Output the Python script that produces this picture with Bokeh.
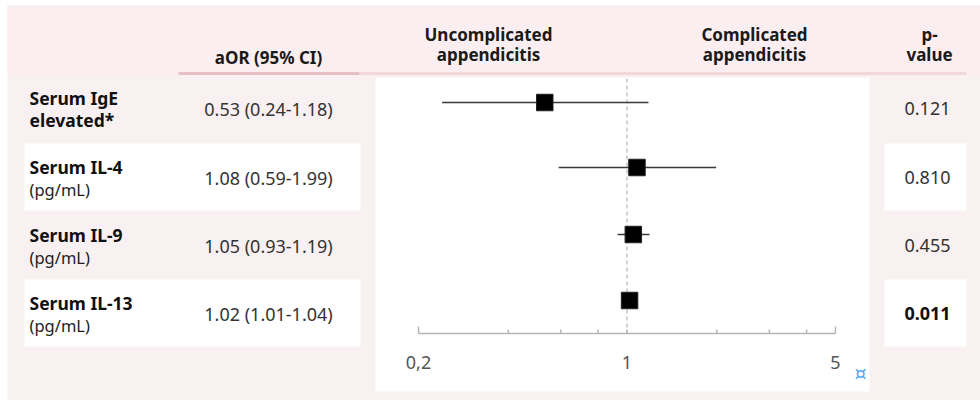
import math
from bokeh.plotting import figure
from bokeh.models import Range1d, LogScale
from bokeh.core.properties import value
from bokeh.embed import file_html
from bokeh.resources import INLINE

# ---------------- data ----------------
row_labels = ["Serum IgE", "Serum IL-4", "Serum IL-9", "Serum IL-13"]
row_sublabels = ["elevated*", "(pg/mL)", "(pg/mL)", "(pg/mL)"]
sub_bold = [True, False, False, False]
aor = [0.53, 1.08, 1.05, 1.02]
ci_low = [0.24, 0.59, 0.93, 1.01]
ci_high = [1.18, 1.99, 1.19, 1.04]
p_values = ["0.121", "0.810", "0.455", "0.011"]
p_bold = [False, False, False, True]
major_ticks = [0.2, 1, 5]
major_tick_labels = ["0,2", "1", "5"]
minor_ticks = [0.4, 0.6, 0.8, 2, 3, 4]
header_aor = "aOR (95% CI)"
header_left = ["Uncomplicated", "appendicitis"]
header_right = ["Complicated", "appendicitis"]
header_p = ["p-", "value"]

# ---------------- layout ----------------
W, H = 980, 400
FONT = value("Noto Sans")
row_center = [108, 177, 245, 313]      # table row text centres (px)
marker_y = [102, 167, 234, 300]        # forest-plot row positions (px)
white_rows = [1, 3]
axis_y = 333

p = figure(width=W, height=H, output_backend="svg", toolbar_location=None,
           x_range=Range1d(0, W), y_range=Range1d(H, 0), min_border=0)
p.axis.visible = False
p.grid.visible = False
p.outline_line_color = None
p.background_fill_color = "white"
p.border_fill_color = "white"

# log scale for the forest plot: 0.2 -> px 418, 5 -> px 835
k = math.log10(5 / 0.2) / (835 - 418)
lo_px = math.log10(0.2) - 418 * k
hi_px = math.log10(0.2) + (W - 418) * k
p.extra_x_ranges = {"or": Range1d(10 ** lo_px, 10 ** hi_px)}
p.extra_x_scales = {"or": LogScale()}

# backgrounds
p.quad(left=[7], right=[W], top=[5], bottom=[H], fill_color="#f9f0f1", line_color=None)
p.quad(left=[7], right=[W], top=[5], bottom=[75], fill_color="#fbeef0", line_color=None)
for i in white_rows:
    t = row_center[i] - 34
    b = row_center[i] + 33
    p.quad(left=[24], right=[360], top=[t], bottom=[b], fill_color="white", line_color=None)
    p.quad(left=[884], right=[966], top=[t], bottom=[b], fill_color="white", line_color=None)
# forest panel
p.quad(left=[375], right=[869], top=[77], bottom=[391], fill_color="white", line_color=None)

# header rule
p.segment(x0=[178], x1=[359], y0=[73], y1=[73], line_color="#e6c0c5", line_width=3)
p.segment(x0=[359], x1=[966], y0=[73], y1=[73], line_color="#f2d8db", line_width=3)

# header texts
hdr = dict(text_font=FONT, text_font_size="17px", text_font_style="bold",
           text_color="#1a1a1a", text_align="center", text_baseline="middle")
p.text(x=[268], y=[57], text=[header_aor], **hdr)
p.text(x=[488, 488], y=[34, 54], text=header_left, **hdr)
p.text(x=[754, 754], y=[34, 54], text=header_right, **hdr)
p.text(x=[929, 929], y=[34, 54], text=header_p, **hdr)

# row labels
for i, lab in enumerate(row_labels):
    c = row_center[i]
    p.text(x=[29], y=[c - 11], text=[lab], text_font=FONT, text_font_size="17.5px",
           text_font_style="bold", text_color="#111111", text_baseline="middle")
    if sub_bold[i]:
        p.text(x=[29], y=[c + 11], text=[row_sublabels[i]], text_font=FONT,
               text_font_size="17.5px", text_font_style="bold", text_color="#111111",
               text_baseline="middle")
    else:
        p.text(x=[29], y=[c + 12], text=[row_sublabels[i]], text_font=FONT,
               text_font_size="16.5px", text_color="#222222", text_baseline="middle")

# aOR column
aor_text = [f"{a:.2f} ({l:.2f}-{h:.2f})" for a, l, h in zip(aor, ci_low, ci_high)]
p.text(x=[268] * len(aor_text), y=row_center, text=aor_text, text_font=FONT,
       text_font_size="18px", text_color="#333333", text_align="center",
       text_baseline="middle")

# p-value column
for i, pv in enumerate(p_values):
    p.text(x=[927], y=[row_center[i]], text=[pv], text_font=FONT, text_font_size="18px",
           text_font_style="bold" if p_bold[i] else "normal",
           text_color="#111111" if p_bold[i] else "#333333",
           text_align="center", text_baseline="middle")

# forest plot
p.segment(x0=[1], x1=[1], y0=[78], y1=[axis_y], x_range_name="or",
          line_color="#c4c4c4", line_width=1.5, line_dash="4 3")
p.segment(x0=ci_low, x1=ci_high, y0=marker_y, y1=marker_y, x_range_name="or",
          line_color="#3a3a3a", line_width=1.6)
p.scatter(x=aor, y=marker_y, marker="square", size=16.5, x_range_name="or",
          fill_color="black", line_color="#222222", line_width=1)

# axis drawn through the log scale
p.segment(x0=[major_ticks[0]], x1=[major_ticks[-1]], y0=[axis_y], y1=[axis_y],
          x_range_name="or", line_color="#b5b5b5", line_width=1.5)
p.segment(x0=[major_ticks[0], major_ticks[-1]], x1=[major_ticks[0], major_ticks[-1]],
          y0=[axis_y, axis_y], y1=[axis_y - 7, axis_y - 7], x_range_name="or",
          line_color="#b5b5b5", line_width=1.5)
inner = minor_ticks + [major_ticks[1]]
p.segment(x0=inner, x1=inner, y0=[axis_y] * len(inner), y1=[axis_y - 4] * len(inner),
          x_range_name="or", line_color="#b5b5b5", line_width=1.5)
p.text(x=major_ticks, y=[362] * 3, text=major_tick_labels, x_range_name="or",
       text_font=FONT, text_font_size="18px", text_color="#555555",
       text_align="center", text_baseline="middle")
p.text(x=[860], y=[372], text=["¤"], text_font=value("DejaVu Sans"), text_font_size="19px",
       text_color="#4fa8ff", text_align="center", text_baseline="middle")

open("out.html", "w").write(file_html(p, INLINE))
